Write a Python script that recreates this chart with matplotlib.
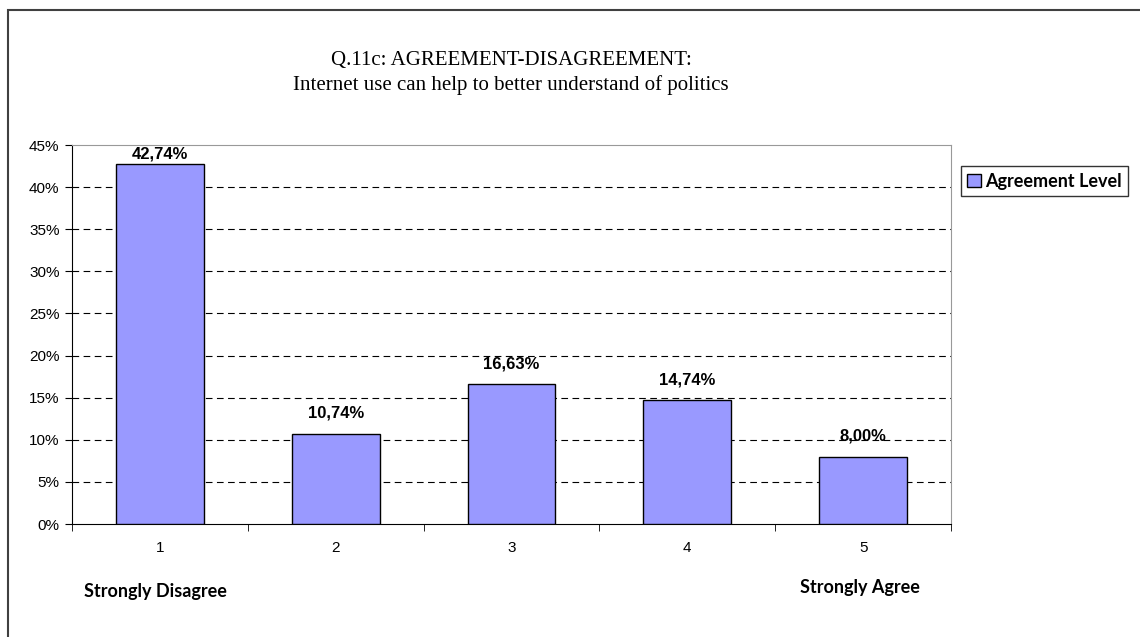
import matplotlib.pyplot as plt
from matplotlib.patches import Rectangle, Patch

categories = ['1', '2', '3', '4', '5']
values = [42.74, 10.74, 16.63, 14.74, 8.00]
value_labels = ['42,74%', '10,74%', '16,63%', '14,74%', '8,00%']
series_name = 'Agreement Level'
title = 'Q.11c: AGREEMENT-DISAGREEMENT:\nInternet use can help to better understand of politics'

bar_color = '#9999ff'

fig = plt.figure(figsize=(11.4, 6.37), dpi=100)
W, H = 1140, 637

# outer chart border (left and top edges visible)
fig.patches.append(Rectangle((8 / W, -0.1), 1.2, (637 - 10) / H + 0.1,
                             transform=fig.transFigure, fill=False,
                             edgecolor='#404040', linewidth=1.5))

ax = fig.add_axes([72 / W, (637 - 524) / H, (951 - 72) / W, (524 - 145) / H])
x = list(range(len(categories)))
ax.bar(x, values, width=0.5, color=bar_color, edgecolor='black', linewidth=1, zorder=3)

ax.set_xlim(-0.5, len(categories) - 0.5)
ax.set_ylim(0, 45)
ax.set_yticks(range(0, 50, 5))
ax.set_yticklabels([f'{v}%' for v in range(0, 50, 5)], fontsize=11, family='Liberation Sans')
ax.set_xticks(x)
ax.set_xticklabels(categories, fontsize=11, family='Liberation Sans')
ax.tick_params(axis='x', length=0, pad=12)
ax.set_xticks([i + 0.5 for i in x[:-1]] + [-0.5, len(categories) - 0.5], minor=True)
ax.tick_params(axis='x', which='minor', length=5, direction='out')
ax.tick_params(axis='y', length=5, direction='out', pad=4)

for v in range(5, 45, 5):
    ax.axhline(v, color='black', linestyle=(0, (6, 4)), linewidth=0.8, zorder=1)

ax.spines['top'].set_color('#999999')
ax.spines['right'].set_color('#999999')
ax.spines['left'].set_color('black')
ax.spines['bottom'].set_color('black')

# data labels sit above each bar, pushed down if they would leave the plot
for xi, v, lab in zip(x, values, value_labels):
    ax.text(xi, min(v + 1.5, 43.0), lab, ha='center', va='bottom', fontsize=12,
            fontweight='bold', family='Liberation Sans', zorder=4)

fig.text(511 / W, 1 - 73 / H, title, ha='center', va='center', fontsize=15,
         family='Liberation Serif', linespacing=1.3)

fig.text(155 / W, 1 - 592 / H, 'Strongly Disagree', ha='center', va='center',
         fontsize=13, fontweight='bold', family='Lato')
fig.text(860 / W, 1 - 587 / H, 'Strongly Agree', ha='center', va='center',
         fontsize=13, fontweight='bold', family='Lato')

leg = fig.legend(handles=[Patch(facecolor=bar_color, edgecolor='black', label=series_name)],
                 loc='center left', bbox_to_anchor=(961 / W, 1 - 181 / H),
                 prop={'family': 'Lato', 'weight': 'bold', 'size': 13},
                 frameon=True, fancybox=False, edgecolor='black',
                 handlelength=0.75, handleheight=0.75, handletextpad=0.25, borderpad=0.35,
                 borderaxespad=0)
leg.get_frame().set_linewidth(1)

fig.savefig('out.png', dpi=100)
